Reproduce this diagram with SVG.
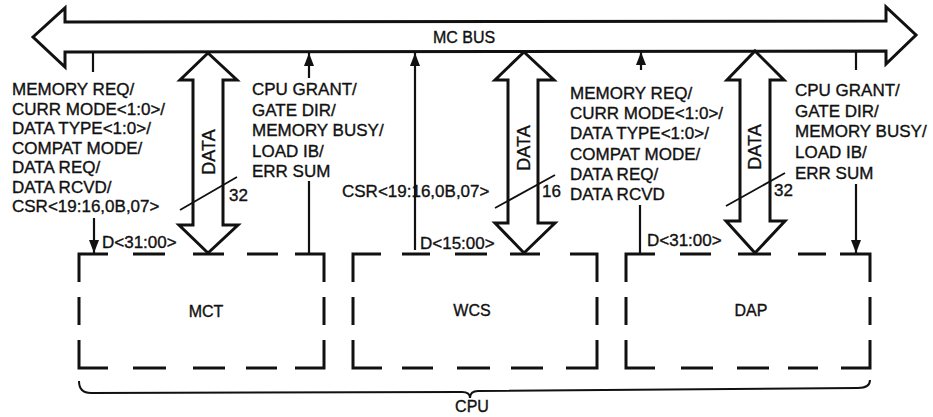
<svg xmlns="http://www.w3.org/2000/svg" width="933" height="417" viewBox="0 0 933 417">
<style>
  text { font-family: "Liberation Sans", Arial, sans-serif; fill: #111; stroke: #111; stroke-width: 0.35; font-size: 17px; }
  .lbl { font-size: 16px; }
  .rot { font-size: 18px; }
  .box { fill: none; stroke: #111; stroke-width: 3; }
  .hollow { fill: #fff; stroke: #111; stroke-width: 3; stroke-linejoin: miter; }
  .sig { fill: none; stroke: #111; stroke-width: 2.2; }
  .slash { fill: none; stroke: #111; stroke-width: 1.8; }
  .brace { fill: none; stroke: #111; stroke-width: 2; }
</style>
<defs>
  <marker id="ah" markerUnits="userSpaceOnUse" markerWidth="14" markerHeight="11" refX="13" refY="5" orient="auto">
    <path d="M0,0 L13,5 L0,10 Z" fill="#111"/>
  </marker>
</defs>
<rect width="933" height="417" fill="#fff"/>

<g id="mc-bus">
  <path class="hollow" d="M33,37 L65,8 L65,22 L886,21 L886,7 L916,35 L886,64 L886,51 L65,52 L65,67 Z"/>
  <text class="lbl" x="464" y="43" text-anchor="middle">MC BUS</text>
</g>

<g id="mct">
  <path class="box" d="M79,282 V254 H108 M133,254 H165 M193,254 H224 M247,254 H278 M295,254 H324 V282 M79,297 V325 M324,297 V325 M79,340 V368 H108 M133,368 H166 M193,368 H225 M246,368 H277 M295,368 H324 V340"/>
  <text class="lbl" x="206" y="317" text-anchor="middle">MCT</text>
</g>

<g id="wcs">
  <path class="box" d="M353,282 V254 H381 M402,254 H430 M455,254 H487 M510,254 H540 M570,254 H597 V282 M353,297 V325 M597,297 V325 M353,340 V368 H382 M402,368 H433 M457,368 H490 M511,368 H543 M566,368 H597 V340"/>
  <text class="lbl" x="472" y="316" text-anchor="middle">WCS</text>
</g>

<g id="dap">
  <path class="box" d="M626,282 V254 H655 M680,254 H711 M738,254 H771 M798,254 H826 M840,254 H870 V282 M626,297 V325 M870,297 V325 M626,340 V368 H655 M681,368 H713 M737,368 H769 M788,368 H818 M841,368 H870 V340"/>
  <text class="lbl" x="751" y="316" text-anchor="middle">DAP</text>
</g>

<g id="cpu">
  <path class="brace" d="M79,381 Q79,393 91,393 L462,392 Q470,392 470,398 Q470,391 478,391 L858,388 Q870,388 870,380"/>
  <text class="lbl" x="472" y="412" text-anchor="middle">CPU</text>
</g>

<g id="connectors">
  <!-- data buses -->
  <path class="hollow" d="M208,53 L237,80 L223,80 L223,225 L238,225 L208,253 L179,225 L193,225 L193,80 L180,80 Z"/>
  <path class="hollow" d="M524,52 L554,80 L538,80 L538,223 L555,223 L524,253 L495,223 L508,223 L508,80 L495,80 Z"/>
  <path class="hollow" d="M755,51 L784,80 L770,80 L770,221 L785,221 L755,253 L726,221 L740,221 L740,80 L727,80 Z"/>
  <text class="rot" transform="translate(215,152) rotate(-90)" text-anchor="middle">DATA</text>
  <text class="rot" transform="translate(530,148) rotate(-90)" text-anchor="middle">DATA</text>
  <text class="rot" transform="translate(761,147) rotate(-90)" text-anchor="middle">DATA</text>
  <path class="slash" d="M180,210 L237,177 M495,208 L555,175 M726,206 L785,173"/>
  <text x="229" y="201">32</text>
  <text x="542" y="197">16</text>
  <text x="774" y="196">32</text>

  <!-- MCT signals -->
  <path class="sig" d="M93,52 V72"/>
  <path class="sig" d="M94,218 V253" marker-end="url(#ah)"/>
  <path class="sig" d="M309,78 V53" marker-end="url(#ah)"/>
  <path class="sig" d="M309,181 V254"/>
  <!-- WCS signals -->
  <path class="sig" d="M415,250 V53" marker-end="url(#ah)"/>
  <!-- DAP signals -->
  <path class="sig" d="M641,70 V52" marker-end="url(#ah)"/>
  <path class="sig" d="M640,205 V254"/>
  <path class="sig" d="M856,51 V70"/>
  <path class="sig" d="M856,184 V253" marker-end="url(#ah)"/>

  <!-- signal labels -->
  <text x="12" y="95"><tspan x="12">MEMORY REQ/</tspan><tspan x="12" dy="19.5">CURR MODE&lt;1:0&gt;/</tspan><tspan x="12" dy="19.5">DATA TYPE&lt;1:0&gt;/</tspan><tspan x="12" dy="19.5">COMPAT MODE/</tspan><tspan x="12" dy="19.5">DATA REQ/</tspan><tspan x="12" dy="19.5">DATA RCVD/</tspan><tspan x="12" dy="19.5">CSR&lt;19:16,0B,07&gt;</tspan></text>
  <text x="102" y="248">D&lt;31:00&gt;</text>
  <text x="252" y="95"><tspan x="252">CPU GRANT/</tspan><tspan x="252" dy="20.5">GATE DIR/</tspan><tspan x="252" dy="20.5">MEMORY BUSY/</tspan><tspan x="252" dy="20.5">LOAD IB/</tspan><tspan x="252" dy="20.5">ERR SUM</tspan></text>
  <text x="342" y="197">CSR&lt;19:16,0B,07&gt;</text>
  <text x="420" y="249">D&lt;15:00&gt;</text>
  <text x="570" y="99"><tspan x="570">MEMORY REQ/</tspan><tspan x="570" dy="20.2">CURR MODE&lt;1:0&gt;/</tspan><tspan x="570" dy="20.2">DATA TYPE&lt;1:0&gt;/</tspan><tspan x="570" dy="20.2">COMPAT MODE/</tspan><tspan x="570" dy="20.2">DATA REQ/</tspan><tspan x="570" dy="20.2">DATA RCVD</tspan></text>
  <text x="647" y="246">D&lt;31:00&gt;</text>
  <text x="795" y="96"><tspan x="795">CPU GRANT/</tspan><tspan x="795" dy="20.7">GATE DIR/</tspan><tspan x="795" dy="20.7">MEMORY BUSY/</tspan><tspan x="795" dy="20.7">LOAD IB/</tspan><tspan x="795" dy="20.7">ERR SUM</tspan></text>
</g>
</svg>
